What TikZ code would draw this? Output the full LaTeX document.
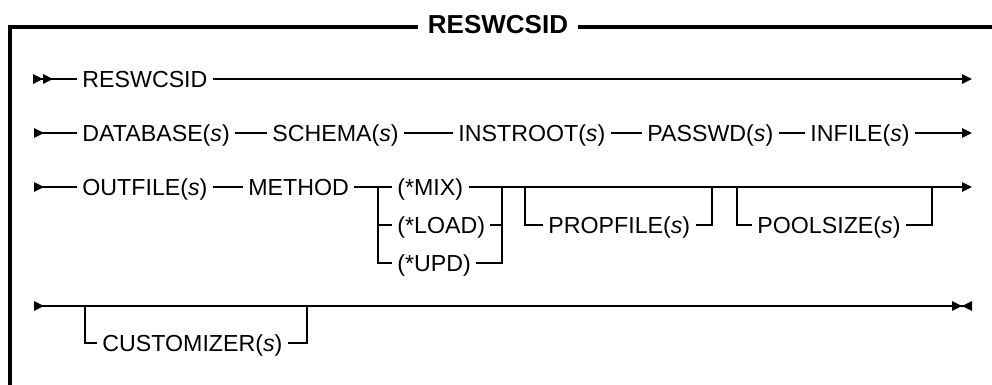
\documentclass[tikz,border=0pt]{standalone}
\usepackage{fontspec}
\setmainfont{Liberation Sans}
\usetikzlibrary{arrows.meta}
\newcommand{\sarg}{(\textit{s})}
\newcommand{\kwfont}{\fontsize{11.6}{13}\selectfont}
\newcommand{\titlefont}{\fontsize{13}{15}\selectfont\bfseries}

\begin{document}
\begin{tikzpicture}[x=0.5pt,y=-0.5pt]
\tikzstyle{every node}=[anchor=west,inner xsep=2.5pt,inner ysep=0pt,text height=8.3pt,text depth=0pt,font=\kwfont]
\tikzstyle{rail}=[line width=1pt]
\tikzstyle{frame}=[line width=1.6pt]
\useasboundingbox (0,0) rectangle (992,385);
\node (title) [anchor=center,inner xsep=5pt,text height=9.3pt,font=\titlefont] at (498,24) {RESWCSID};
\coordinate (tl) at (10,27);
\coordinate (bl) at (10,392);
\coordinate (tr) at (996,27);
\draw[frame] (title.west |- tl) -- (tl) -- (bl);
\draw[frame] (title.east |- tr) -- (tr);
\coordinate (s1) at (33,79);
\node (r1) at (77,79) {RESWCSID};
\coordinate (e1) at (972,79);
\draw[rail,{Triangle[length=5pt,width=4.6pt,reversed]Triangle[length=5pt,width=4.6pt,reversed]}-] (s1) -- (r1);
\draw[rail,-{Triangle[length=5pt,width=4.6pt]}] (r1) -- (e1);
\coordinate (s2) at (34,133);
\node (db) at (77,133) {DATABASE\sarg};
\node (sc) at (267,133) {SCHEMA\sarg};
\node (ir) at (453,133) {INSTROOT\sarg};
\node (pw) at (642,133) {PASSWD\sarg};
\node (inf) at (805,133) {INFILE\sarg};
\coordinate (e2) at (972,133);
\draw[rail,{Triangle[length=5pt,width=4.6pt,reversed]}-] (s2) -- (db);
\draw[rail] (db) -- (sc) (sc) -- (ir) (ir) -- (pw) (pw) -- (inf);
\draw[rail,-{Triangle[length=5pt,width=4.6pt]}] (inf) -- (e2);
\coordinate (s3) at (34,187);
\node (of) at (77,187) {OUTFILE\sarg};
\node (me) at (243,187) {METHOD};
\coordinate (brL) at (378,187);
\node (mix) at (392,187) {(*MIX)};
\node (load) at (392,225) {(*LOAD)};
\node (upd) at (392,263) {(*UPD)};
\coordinate (brR) at (502,187);
\coordinate (pfL) at (525,187);
\node (pf) at (543,225) {PROPFILE\sarg};
\coordinate (pfR) at (712,187);
\coordinate (psL) at (737,187);
\node (ps) at (752,225) {POOLSIZE\sarg};
\coordinate (psR) at (932,187);
\coordinate (e3) at (972,187);
\draw[rail,{Triangle[length=5pt,width=4.6pt,reversed]}-] (s3) -- (of);
\draw[rail] (of) -- (me) (me) -- (brL) -- (mix);
\draw[rail,-{Triangle[length=5pt,width=4.6pt]}] (mix) -- (e3);
\draw[rail] (brL) |- (upd) (brL |- load) -- (load);
\draw[rail] (upd) -| (brR) (load) -- (brR |- load);
\draw[rail] (pfL) |- (pf) (pf) -| (pfR);
\draw[rail] (psL) |- (ps) (ps) -| (psR);
\coordinate (s4) at (34,306);
\coordinate (cuL) at (85,306);
\node (cu) at (97,343) {CUSTOMIZER\sarg};
\coordinate (cuR) at (307,306);
\coordinate (e4) at (972,306);
\draw[rail,{Triangle[length=5pt,width=4.6pt,reversed]}-{Triangle[length=5pt,width=4.6pt]Triangle[length=5pt,width=4.6pt,reversed]}] (s4) -- (e4);
\draw[rail] (cuL) |- (cu) (cu) -| (cuR);
\end{tikzpicture}
\end{document}
